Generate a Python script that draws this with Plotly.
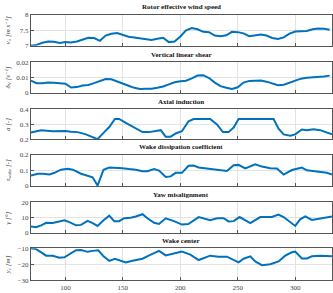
import plotly.graph_objects as go

# ---------------- data ----------------
t_uniform = list(range(70, 335, 5))

v0 = [7.00, 7.03, 7.10, 7.14, 7.13, 7.09, 7.12, 7.11, 7.14, 7.20,
      7.26, 7.25, 7.16, 7.33, 7.39, 7.41, 7.34, 7.29, 7.27, 7.24,
      7.20, 7.19, 7.23, 7.26, 7.12, 7.14, 7.30, 7.50, 7.57, 7.53,
      7.45, 7.44, 7.33, 7.31, 7.34, 7.45, 7.44, 7.40, 7.31, 7.33,
      7.36, 7.33, 7.25, 7.22, 7.27, 7.39, 7.46, 7.47, 7.48, 7.53,
      7.56, 7.55, 7.52]

shear = [0.0079, 0.0062, 0.0062, 0.0066, 0.0064, 0.0062, 0.0058, 0.0033, 0.0036, 0.0047,
         0.0050, 0.0062, 0.0075, 0.0090, 0.0088, 0.0072, 0.0059, 0.0045, 0.0031, 0.0024,
         0.0025, 0.0025, 0.0032, 0.0040, 0.0054, 0.0068, 0.0074, 0.0078, 0.0094, 0.0113,
         0.0115, 0.0096, 0.0066, 0.0042, 0.0032, 0.0024, 0.0035, 0.0066, 0.0077, 0.0079,
         0.0079, 0.0072, 0.0058, 0.0048, 0.0052, 0.0067, 0.0080, 0.0092, 0.0098, 0.0100,
         0.0103, 0.0107, 0.0112]

t_a = [70, 78.9, 89, 94.8, 100, 104.9, 110.7, 117.9, 123.7, 128, 133.8, 138.2, 143.1,
       146.8, 152.6, 158.4, 162.7, 167.1, 172.9, 178.6, 183, 187.3, 191.6, 196, 201.4,
       207.2, 211.6, 226, 231.9, 237.1, 242, 246.4, 250.7, 281.2, 285.5, 289.9, 295.7,
       300, 305.8, 310.1, 315.9, 321.7, 327.5, 331.9]
a_ind = [0.245, 0.26, 0.253, 0.255, 0.255, 0.249, 0.247, 0.232, 0.213, 0.200, 0.247, 0.281,
         0.334, 0.334, 0.309, 0.285, 0.264, 0.247, 0.247, 0.255, 0.26, 0.217, 0.217, 0.238,
         0.253, 0.319, 0.334, 0.334, 0.298, 0.247, 0.247, 0.277, 0.334, 0.334, 0.27, 0.232,
         0.223, 0.232, 0.264, 0.26, 0.266, 0.26, 0.247, 0.232]

t_tau = [70, 76, 80.3, 86.1, 90.5, 96.2, 102, 106.4, 113.6, 120.8, 123.7, 128, 133.2,
         138.2, 143.9, 149.7, 155.5, 161.3, 167.1, 171.4, 177.2, 181.5, 187.3, 191.6,
         196, 201.4, 207.2, 211.6, 216, 226, 236.2, 240.6, 246.4, 250.7, 256.5, 265.2,
         271, 278.3, 284.1, 289.9, 297.1, 305.8, 310.1, 315.9, 321.7, 327.5, 331.9]
tau = [0.067, 0.078, 0.078, 0.073, 0.084, 0.104, 0.110, 0.104, 0.078, 0.061, 0.055, 0.002,
       0.104, 0.118, 0.117, 0.114, 0.108, 0.104, 0.094, 0.094, 0.108, 0.098, 0.057, 0.061,
       0.084, 0.084, 0.129, 0.131, 0.118, 0.108, 0.096, 0.096, 0.133, 0.135, 0.112, 0.139,
       0.124, 0.114, 0.112, 0.073, 0.102, 0.118, 0.100, 0.094, 0.092, 0.084, 0.073]

t_gam = [70, 74.6, 78.9, 83.3, 89, 94.8, 99.1, 103.5, 109.3, 113.6, 119.4, 123.7, 128,
         133.2, 138.2, 142.5, 146.8, 151.1, 156.9, 161.3, 167.1, 171.4, 177.2, 181.5,
         187.3, 194.5, 201.4, 207, 216, 226, 232, 237.7, 242, 246.4, 251.6, 260.9, 269.6,
         279.7, 285.5, 289.9, 300, 304.3, 308.7, 314.5, 323.2, 331.9]
gamma = [4.0, 3.6, 4.8, 6.5, 6.3, 7.4, 8.2, 6.9, 4.8, 5.1, 7.8, 6.3, 4.4,
         8.2, 11.2, 7.6, 7.6, 9.5, 9.9, 10.7, 12.2, 9.5, 6.5, 5.7,
         9.5, 7.6, 5.3, 5.7, 10.3, 8.2, 9.5, 9.5, 7.4, 7.6, 10.3, 6.3, 10.3,
         10.3, 12.0, 10.3, 4.4, 8.8, 10.7, 8.4, 9.7, 10.7]

t_yc = [70, 74.6, 78.9, 83.3, 89, 94.8, 99.1, 103.5, 109.3, 113.6, 119.4, 123.7, 128.6,
        133.2, 138.2, 143.1, 148.3, 152.6, 158.4, 167.1, 172.9, 177.2, 181.5, 187.3,
        194.5, 201.4, 208.7, 216, 226, 233.3, 240.6, 250.7, 255.1, 260.9, 265.2, 271,
        278.3, 285.5, 291.3, 297.1, 300, 305.8, 310.1, 314.5, 321.7, 331.9]
y_c = [-10.0, -10.6, -12.6, -14.7, -14.7, -16.0, -15.7, -13.6, -11.3, -11.1, -12.3, -11.7,
       -11.3, -15.1, -17.9, -16.6, -17.7, -18.9, -17.9, -16.6, -14.5, -13.0, -11.7, -14.5,
       -13.2, -12.1, -14.0, -17.4, -14.7, -15.3, -15.3, -18.9, -16.6, -15.1, -18.3, -20.6,
       -20.0, -18.3, -14.7, -12.6, -12.1, -16.4, -16.4, -15.1, -14.7, -15.1]

titles = ["Rotor effective wind speed", "Vertical linear shear", "Axial induction",
          "Wake dissipation coefficient", "Yaw misalignment", "Wake center"]
ylabels = ["v₀ [m s⁻¹]", "δ<sub>V</sub> [s⁻¹]", "a [-]", "τ<sub>wake</sub> [-]", "γ [°]", "y<sub>c</sub> [m]"]
yranges = [[7, 8], [0, 0.02], [0.2, 0.4], [0, 0.2], [0, 20], [-30, -10]]
ytickvals = [[7, 7.5, 8], [0, 0.01, 0.02], [0.2, 0.3, 0.4], [0, 0.1, 0.2], [0, 10, 20], [-30, -20, -10]]
yticktext = [["7", "7.5", "8"], ["0", "0.01", "0.02"], ["0.2", "0.3", "0.4"],
             ["0", "0.1", "0.2"], ["0", "10", "20"], ["−30", "−20", "−10"]]
xtickvals = [100, 150, 200, 250, 300]
xrange_ = [70, 332]

series = [(t_uniform, v0), (t_uniform, shear), (t_a, a_ind), (t_tau, tau), (t_gam, gamma), (t_yc, y_c)]

# ---------------- layout ----------------
W, H = 333, 293
tops = [11, 60, 108, 155, 204, 251]
bots = [43, 91, 139, 187, 235, 284]
left_px = 31
FONT = "Liberation Serif, DejaVu Serif, serif"
LINE = "#0072BD"
AX = "#555555"
GRID = "#e3e3e3"

fig = go.Figure()
layout = dict(width=W, height=H, margin=dict(l=0, r=0, t=0, b=0),
              paper_bgcolor="white", plot_bgcolor="white", showlegend=False,
              font=dict(family=FONT, size=7, color="#333333"))
annotations = []
for i in range(6):
    n = "" if i == 0 else str(i + 1)
    xs, ys = series[i]
    fig.add_trace(go.Scatter(x=xs, y=ys, mode="lines", line=dict(color=LINE, width=2),
                             xaxis="x" + n, yaxis="y" + n, hoverinfo="skip"))
    layout["xaxis" + n] = dict(domain=[left_px / W, 1], range=xrange_, anchor="y" + n,
                               tickvals=xtickvals, showticklabels=(i == 5),
                               ticks="inside", ticklen=3, tickcolor=AX,
                               showline=True, mirror=True, linecolor=AX, linewidth=1,
                               showgrid=True, gridcolor=GRID, gridwidth=1, zeroline=False,
                               tickfont=dict(size=7, color="#444444"),
                               matches=None if i == 0 else "x")
    layout["yaxis" + n] = dict(domain=[1 - bots[i] / H, 1 - tops[i] / H], range=yranges[i],
                               anchor="x" + n, tickvals=ytickvals[i], ticktext=yticktext[i],
                               ticks="inside", ticklen=3, tickcolor=AX,
                               showline=True, mirror=True, linecolor=AX, linewidth=1,
                               showgrid=True, gridcolor=GRID, gridwidth=1, zeroline=False,
                               tickfont=dict(size=7, color="#444444"))
    annotations.append(dict(text=titles[i], xref="paper", yref="paper",
                            x=(left_px / W + 1) / 2, y=1 - (tops[i] - 1.5) / H,
                            xanchor="center", yanchor="bottom", showarrow=False,
                            font=dict(family=FONT, size=7, color="#111111", weight="bold")))
    annotations.append(dict(text=ylabels[i], xref="paper", yref="paper",
                            x=8 / W, y=1 - (tops[i] + bots[i]) / 2 / H, textangle=-90,
                            xanchor="center", yanchor="middle", showarrow=False,
                            font=dict(family=FONT, size=7, color="#444444", style="italic")))
layout["annotations"] = annotations
fig.update_layout(**layout)
fig.write_html("out.html")
